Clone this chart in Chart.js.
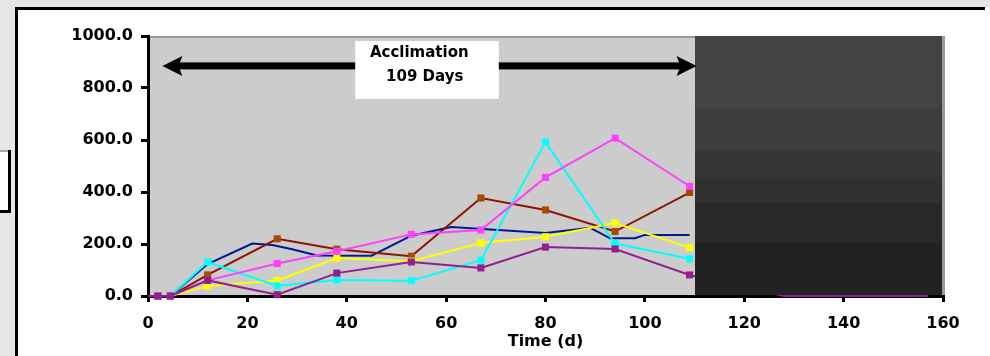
<!DOCTYPE html>
<html>
<head>
<meta charset="utf-8">
<script src="https://cdn.jsdelivr.net/npm/chart.js@4"></script>
<style>
  html, body { margin: 0; padding: 0; background: #fff; }
  canvas { display: block; }
</style>
</head>
<body>
<canvas id="chart" width="990" height="356"></canvas>
<script>
// sampling days (d)
const sampleDays = [0, 2, 4.5, 12, 26, 38, 53, 67, 80, 94, 109];
const purpleDays = [0, 2, 4.5, 12, 26, 38, 53, 67, 80, 94, 109, 128, 157];
const navyDays = [0, 4.5, 12, 21, 25, 29, 34, 45, 53, 61, 80, 89, 93, 98, 100, 109];

// measured values per series
const navyValues = [0, 0, 123, 202, 196, 180, 156, 155, 232, 265, 242, 262, 222, 222, 235, 235];
const redValues = [0, 0, 0, 81, 220, 180, 153, 377, 331, 248, 398];
const yellowValues = [0, 0, 0, 38, 60, 146, 134, 204, 228, 281, 186];
const cyanValues = [0, 0, 0, 131, 39, 62, 59, 138, 592, 202, 143];
const magentaValues = [0, 0, 0, 60, 125, 172, 237, 254, 456, 607, 422];
const purpleValues = [0, 0, 0, 60, 5, 88, 131, 108, 188, 181, 81, 0, 0];

const yTicks = [0, 200, 400, 600, 800, 1000];
const xTicks = [0, 20, 40, 60, 80, 100, 120, 140, 160];

const labelFont = { family: 'DejaVu Sans', weight: 'bold', size: 16 };

function series(label, xs, ys, line, marker, radius) {
  return {
    label,
    data: xs.map((x, i) => ({ x, y: ys[i] })),
    borderColor: line,
    backgroundColor: marker,
    pointBackgroundColor: marker,
    pointBorderWidth: 0,
    pointStyle: 'rect',
    // no marker at the origin or past the end of the run
    pointRadius: c => (c.raw.x === 0 || c.raw.x > 110) ? 0 : radius,
    borderWidth: 2,
    tension: 0,
    clip: 4
  };
}

// plot background, frame and the shaded region / acclimation arrow
const decorations = {
  id: 'decorations',
  beforeDraw(chart) {
    const { ctx, width, height, chartArea: a } = chart;
    ctx.save();
    ctx.fillStyle = '#e6e6e6';
    ctx.fillRect(0, 0, width, 7);
    ctx.fillRect(0, 0, 15, height);
    // little box at the left edge
    ctx.fillStyle = '#fff';
    ctx.fillRect(0, 150, 11, 63);
    ctx.fillStyle = '#a8a8a8';
    ctx.fillRect(0, 150, 9, 2);
    ctx.fillStyle = '#000';
    ctx.fillRect(8, 150, 3, 63);
    ctx.fillRect(0, 210, 11, 3);
    // outer frame
    ctx.fillRect(15, 7, 970, 3);
    ctx.fillRect(15, 7, 3, height - 7);
    // plot area
    ctx.fillStyle = '#cccccc';
    ctx.fillRect(a.left, a.top, a.right - a.left, a.bottom - a.top);
    ctx.fillStyle = '#999';
    ctx.fillRect(a.left, a.top, a.right - a.left, 2);
    ctx.restore();
  },
  afterDatasetsDraw(chart) {
    const { ctx, chartArea: a, scales: { x, y } } = chart;
    ctx.save();
    // darkened period after day 110
    const bands = [[1000, 723, '#444444'], [723, 558, '#3d3d3d'], [558, 458, '#363636'],
                   [458, 358, '#303030'], [358, 204, '#292929'], [204, 0, '#222222']];
    const bx = Math.round(x.getPixelForValue(110));
    const br = Math.round(a.right);
    bands.forEach(([hi, lo, col]) => {
      const top = Math.round(y.getPixelForValue(hi));
      const bot = lo === 0 ? Math.round(a.bottom) - 1 : Math.round(y.getPixelForValue(lo));
      ctx.fillStyle = col;
      ctx.fillRect(bx, top, br - bx, bot - top);
    });
    ctx.fillStyle = '#999';
    ctx.fillRect(br - 1, Math.round(a.top), 3, Math.round(a.bottom - a.top) - 1);

    // double-headed arrow
    const ay = y.getPixelForValue(885);
    const ax1 = x.getPixelForValue(2.9);
    const ax2 = x.getPixelForValue(110.4);
    ctx.fillStyle = '#000';
    ctx.fillRect(ax1 + 10, ay - 3.5, ax2 - ax1 - 20, 7);
    ctx.beginPath();
    ctx.moveTo(ax1, ay);
    ctx.lineTo(ax1 + 20, ay - 10);
    ctx.lineTo(ax1 + 16, ay);
    ctx.lineTo(ax1 + 20, ay + 10);
    ctx.closePath();
    ctx.moveTo(ax2, ay);
    ctx.lineTo(ax2 - 20, ay - 10);
    ctx.lineTo(ax2 - 16, ay);
    ctx.lineTo(ax2 - 20, ay + 10);
    ctx.closePath();
    ctx.fill();

    // label box
    const lx1 = x.getPixelForValue(41.7), lx2 = x.getPixelForValue(70.6);
    const ly1 = y.getPixelForValue(981), ly2 = y.getPixelForValue(758);
    ctx.fillStyle = '#fff';
    ctx.fillRect(lx1, ly1, lx2 - lx1, ly2 - ly1);
    ctx.fillStyle = '#000';
    ctx.font = 'bold 15px "DejaVu Sans"';
    ctx.textAlign = 'center';
    ctx.textBaseline = 'middle';
    ctx.fillText('Acclimation', x.getPixelForValue(54.6), y.getPixelForValue(935));
    ctx.fillText('109 Days', x.getPixelForValue(55.7), y.getPixelForValue(842));
    ctx.restore();
  }
};

new Chart(document.getElementById('chart'), {
  type: 'line',
  data: {
    datasets: [
      series('P6', purpleDays, purpleValues, '#902090', '#902090', 5),
      series('P5', sampleDays, magentaValues, '#ff40ff', '#ff40ff', 5),
      series('P4', sampleDays, cyanValues, '#00ffff', '#00ffff', 5),
      series('P3', sampleDays, yellowValues, '#ffff00', '#ffff00', 5),
      series('P2', sampleDays, redValues, '#8c1400', '#a84a00', 5),
      series('P1', navyDays, navyValues, '#001a8c', '#001a8c', 0)
    ]
  },
  options: {
    responsive: false,
    animation: false,
    layout: { padding: { top: 36, right: 47, left: 0, bottom: 0 } },
    plugins: { legend: { display: false }, tooltip: { enabled: false } },
    scales: {
      x: {
        type: 'linear',
        min: xTicks[0],
        max: xTicks[xTicks.length - 1],
        afterBuildTicks: s => { s.ticks = xTicks.map(v => ({ value: v })); },
        afterFit: s => { s.height = 60; },
        ticks: { color: '#000', font: labelFont, padding: 12, maxRotation: 0 },
        grid: { drawOnChartArea: false, color: '#000', lineWidth: 3, tickLength: 6 },
        border: { color: '#000', width: 3 },
        title: { display: true, text: 'Time (d)', color: '#000', font: labelFont, padding: { top: 0, bottom: 5 } }
      },
      y: {
        min: yTicks[0],
        max: yTicks[yTicks.length - 1],
        afterBuildTicks: s => { s.ticks = yTicks.map(v => ({ value: v })); },
        afterFit: s => { s.width = 148; },
        ticks: { color: '#000', font: labelFont, padding: 8, callback: v => v.toFixed(1) },
        grid: { drawOnChartArea: false, color: '#000', lineWidth: 3, tickLength: 7 },
        border: { color: '#000', width: 3 }
      }
    }
  },
  plugins: [decorations]
});
</script>
</body>
</html>
